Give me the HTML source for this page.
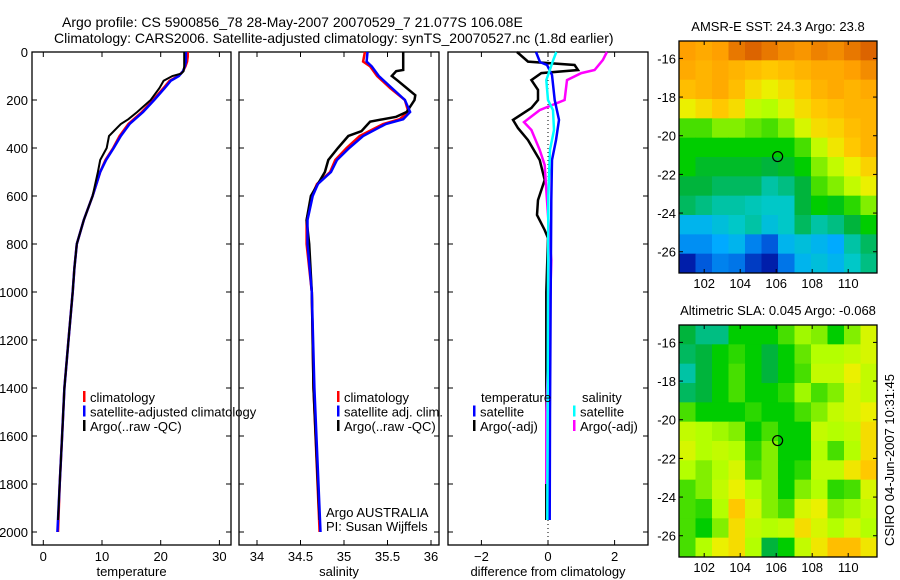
<!DOCTYPE html>
<html><head><meta charset="utf-8"><style>
body{margin:0;background:#fff}
svg{display:block;font-family:"Liberation Sans",sans-serif}
</style></head><body>
<svg id="c" width="900" height="580" viewBox="0 0 900 580" xmlns="http://www.w3.org/2000/svg">
<rect width="900" height="580" fill="#fff"/>
<text x="62" y="27" font-size="14">Argo profile: CS 5900856_78 28-May-2007 20070529_7 21.077S 106.08E</text>
<text x="54" y="43" font-size="14">Climatology: CARS2006. Satellite-adjusted climatology: synTS_20070527.nc (1.8d earlier)</text>
<g id="g"></g>
</svg>
<script>
// ---- data ----
const tDepth=[0,20,40,60,80,100,120,150,200,250,300,350,400,450,500,600,700,800,900,1000,1200,1400,1600,1800,2000];
const tClim=[24.6,24.6,24.5,24.2,23.8,23,21.5,20.5,18.7,16.8,14.5,13,11.9,10.6,9.7,8.4,6.9,5.7,5.3,5,4.3,3.6,3.2,2.8,2.5];
const tSat=[24.3,24.3,24.3,24.1,23.8,23.1,21.7,20.7,18.9,17.0,14.7,13.2,12.0,10.7,9.7,8.4,6.9,5.7,5.3,5,4.3,3.6,3.2,2.8,2.4];
const aDepth=[0,60,80,90,100,120,150,200,250,280,300,350,400,450,500,600,700,800,900,1000,1200,1400,1600,1800,1950];
const aTemp=[24,24,23.9,23.5,22,20.5,19.8,18.3,16,14.5,13.2,11.2,10.8,9.7,9.3,8.4,6.9,5.7,5.3,5,4.3,3.6,3.2,2.8,2.5];
const sDepth=[0,40,60,100,150,200,250,280,300,350,400,450,500,550,600,700,800,1000,1400,2000];
const sClim=[35.24,35.22,35.3,35.38,35.53,35.70,35.74,35.64,35.45,35.18,35.03,34.9,34.84,34.69,34.63,34.57,34.57,34.63,34.65,34.72];
const sSat=[35.27,35.26,35.32,35.40,35.55,35.70,35.76,35.68,35.48,35.22,35.06,34.92,34.85,34.70,34.64,34.58,34.58,34.63,34.66,34.73];
const asDepth=[0,75,80,100,120,150,180,200,250,270,290,330,350,400,450,500,600,700,800,1000,1400,1950];
const aSal=[35.68,35.68,35.6,35.55,35.62,35.72,35.82,35.81,35.72,35.6,35.3,35.2,35.05,34.93,34.82,34.78,34.62,34.57,34.6,34.63,34.65,34.72];
const dBlackDepth=[0,40,54,75,88,117,158,200,233,283,317,367,450,533,617,679,742,775,1000,1500,1950];
const dBlack=[-0.93,-0.6,0.8,0.9,-0.2,-0.5,-0.3,-0.3,-0.5,-1.05,-0.9,-0.6,-0.25,-0.1,-0.3,-0.33,-0.1,0,-0.05,-0.05,-0.05];
const dMagDepth=[0,33,75,88,117,200,242,292,325,408,471,575,783,867,1100,1500,1800];
const dMag=[1.77,1.65,1.4,1.0,0.57,0.5,-0.25,-0.72,-0.5,-0.25,-0.1,-0.05,0.05,0.1,0.05,-0.05,-0.05];
const dBlueDepth=[0,42,54,96,200,283,367,450,617,1000,1500,1950];
const dBlue=[-0.36,-0.24,-0.03,0.12,0.2,0.33,0.24,0.12,0.1,0.08,0.06,0.05];
const dCyanDepth=[0,33,117,200,242,325,408,600,1000,1950];
const dCyan=[0.25,0.16,-0.05,0,0.15,0.18,0.06,0.01,0,-0.02];
const sstGrid=[
[0.84,0.82,0.84,0.88,0.9,0.88,0.86,0.85,0.87,0.86,0.88,0.9],
[0.82,0.8,0.82,0.8,0.78,0.76,0.78,0.8,0.82,0.82,0.84,0.86],
[0.78,0.8,0.82,0.78,0.72,0.68,0.72,0.76,0.8,0.82,0.8,0.82],
[0.68,0.72,0.76,0.72,0.62,0.6,0.66,0.72,0.76,0.78,0.8,0.8],
[0.5,0.5,0.55,0.55,0.52,0.5,0.55,0.65,0.72,0.74,0.78,0.8],
[0.45,0.45,0.45,0.45,0.45,0.45,0.45,0.5,0.62,0.7,0.76,0.8],
[0.45,0.43,0.43,0.43,0.43,0.42,0.43,0.45,0.55,0.62,0.68,0.74],
[0.42,0.42,0.4,0.4,0.4,0.36,0.38,0.42,0.5,0.55,0.62,0.68],
[0.4,0.38,0.36,0.36,0.35,0.34,0.34,0.42,0.45,0.44,0.48,0.55],
[0.3,0.3,0.32,0.34,0.36,0.32,0.34,0.4,0.36,0.38,0.42,0.45],
[0.26,0.26,0.28,0.3,0.25,0.22,0.3,0.32,0.3,0.28,0.36,0.4],
[0.18,0.22,0.25,0.24,0.2,0.18,0.24,0.3,0.32,0.3,0.34,0.38]];
const slaGrid=[
[0.42,0.38,0.38,0.45,0.45,0.45,0.5,0.58,0.55,0.45,0.55,0.65],
[0.4,0.42,0.45,0.48,0.45,0.42,0.45,0.52,0.6,0.6,0.62,0.65],
[0.36,0.42,0.45,0.5,0.45,0.42,0.45,0.5,0.62,0.62,0.68,0.62],
[0.4,0.42,0.45,0.5,0.45,0.45,0.48,0.58,0.5,0.55,0.65,0.62],
[0.5,0.45,0.45,0.45,0.48,0.45,0.45,0.5,0.55,0.62,0.65,0.68],
[0.62,0.6,0.58,0.55,0.45,0.5,0.45,0.45,0.62,0.6,0.62,0.72],
[0.65,0.6,0.62,0.6,0.48,0.55,0.45,0.45,0.6,0.5,0.6,0.72],
[0.6,0.55,0.6,0.65,0.5,0.55,0.45,0.48,0.62,0.62,0.7,0.76],
[0.5,0.55,0.62,0.68,0.6,0.55,0.45,0.55,0.6,0.48,0.5,0.65],
[0.5,0.48,0.6,0.76,0.65,0.55,0.5,0.65,0.68,0.55,0.58,0.62],
[0.5,0.45,0.55,0.72,0.62,0.6,0.62,0.72,0.65,0.6,0.65,0.6],
[0.5,0.6,0.68,0.72,0.6,0.42,0.45,0.62,0.7,0.78,0.78,0.7]];
const depthTicks=[0,200,400,600,800,1000,1200,1400,1600,1800,2000];
const tempTicks=[0,10,20,30];
const salTicks=[34,34.5,35,35.5,36];
const diffTicks=[-2,0,2];
const lonTicks=[102,104,106,108,110];
const latTicks=[-16,-18,-20,-22,-24,-26];
const argoLon=106.08, argoLat=-21.077;

// ---- drawing ----
const NS='http://www.w3.org/2000/svg';
const G=document.getElementById('g');
function el(t,a,p){const e=document.createElementNS(NS,t);for(const k in a)e.setAttribute(k,a[k]);(p||G).appendChild(e);return e;}
const yD=d=>52+0.24*d;
const xT=v=>43.3+5.87*v;
const xS=v=>257+87*(v-34);
const xDf=v=>548+33.3*v;
function line(ds,vs,xf,col,w,name){
  const pts=ds.map((d,i)=>xf(vs[i]).toFixed(1)+','+yD(d).toFixed(1)).join(' ');
  const e=el('polyline',{points:pts,fill:'none',stroke:col,'stroke-width':w});
  
  
}
function panel(x0,x1,ticks,xf,label,name,labelDepth){
  const f=el('rect',{x:x0,y:52,width:x1-x0,height:493,fill:'none',stroke:'#000','stroke-width':1.3});
  
  
  ticks.forEach(t=>{const x=xf(t);
    el('line',{x1:x,x2:x,y1:52,y2:57,stroke:'#000'});el('line',{x1:x,x2:x,y1:540,y2:545,stroke:'#000'});
    const tx=el('text',{x:x,y:561,'font-size':13,'text-anchor':'middle'});tx.textContent=String(t).replace('-','\u2212');
    
    
  });
  depthTicks.forEach(d=>{const y=yD(d);
    el('line',{x1:x0,x2:x0+5,y1:y,y2:y,stroke:'#000'});el('line',{x1:x1-5,x2:x1,y1:y,y2:y,stroke:'#000'});
    if(labelDepth){const tx=el('text',{x:28,y:y+5,'font-size':13,'text-anchor':'end'});tx.textContent=d;
      
      }
  });
  const lb=el('text',{x:(x0+x1)/2,y:576,'font-size':13,'text-anchor':'middle'});lb.textContent=label;
  
  
}
panel(32,231,tempTicks,xT,'temperature','temperature-panel',true);
panel(239,439,salTicks,xS,'salinity','salinity-panel',false);
panel(448,648,diffTicks,xDf,'difference from climatology','difference-panel',false);
el('line',{x1:548,x2:548,y1:52,y2:545,stroke:'#000','stroke-dasharray':'1,3'});

line(tDepth,tClim,xT,'#f00',2.5,'temp-climatology-line');
line(tDepth,tSat,xT,'#00f',2.5,'temp-satellite-line');
line(aDepth,aTemp,xT,'#000',2,'temp-argo-line');
line(sDepth,sClim,xS,'#f00',2.5,'sal-climatology-line');
line(asDepth,aSal,xS,'#000',2.5,'sal-argo-line');
line(sDepth,sSat,xS,'#00f',2.5,'sal-satellite-line');
line(dBlackDepth,dBlack,xDf,'#000',2.5,'diff-temp-argo-line');
line(dMagDepth,dMag,xDf,'#f0f',2.5,'diff-sal-argo-line');
line(dBlueDepth,dBlue,xDf,'#00f',2.5,'diff-temp-satellite-line');
line(dCyanDepth,dCyan,xDf,'#0ff',2.5,'diff-sal-satellite-line');

function legend(x,y,items,name){items.forEach((it,i)=>{
  el('rect',{x:x,y:y+i*14.5-11,width:2.5,height:11,fill:it[1]});
  const t=el('text',{x:x+7,y:y+i*14.5,'font-size':13});t.textContent=it[0];
  
  
});}
legend(83,402,[['climatology','#f00'],['satellite-adjusted climatology','#00f'],['Argo(..raw -QC)','#000']],'temperature-legend');
legend(337,402,[['climatology','#f00'],['satellite adj. clim.','#00f'],['Argo(..raw -QC)','#000']],'salinity-legend');
let t=el('text',{x:481,y:402,'font-size':13});t.textContent='temperature';

t=el('text',{x:582,y:402,'font-size':13});t.textContent='salinity';

legend(473,416.5,[['satellite','#00f'],['Argo(-adj)','#000']],'diff-temperature-legend');
legend(573,416.5,[['satellite','#0ff'],['Argo(-adj)','#f0f']],'diff-salinity-legend');
t=el('text',{x:326,y:517,'font-size':13});t.textContent='Argo AUSTRALIA';

t=el('text',{x:326,y:531,'font-size':13});t.textContent='PI: Susan Wijffels';


// maps
const cmapStops=[[0.18,[0,30,170]],[0.22,[0,90,220]],[0.28,[0,170,255]],[0.34,[0,200,200]],[0.38,[0,190,130]],[0.42,[0,180,60]],[0.45,[0,205,0]],[0.52,[100,230,0]],[0.6,[180,255,0]],[0.68,[235,240,0]],[0.76,[255,200,0]],[0.84,[255,160,0]],[0.9,[220,100,0]]];
function cmap(v){
  if(v<=cmapStops[0][0])return `rgb(${cmapStops[0][1]})`;
  for(let i=1;i<cmapStops.length;i++){if(v<=cmapStops[i][0]){const a=cmapStops[i-1],b=cmapStops[i],f=(v-a[0])/(b[0]-a[0]);
    return 'rgb('+a[1].map((c,k)=>Math.round(c+(b[1][k]-c)*f)).join(',')+')';}}
  return `rgb(${cmapStops[cmapStops.length-1][1]})`;
}
function map(top,grid,title,name){
  const L=679,R=877,B=top+232,lon0=100.6,lon1=111.6,lat0=-15.1,lat1=-27.1;
  const xL=v=>L+(v-lon0)/(lon1-lon0)*(R-L), yL=v=>top+(v-lat0)/(lat1-lat0)*(B-top);
  const nr=grid.length,nc=grid[0].length,cw=(R-L)/nc,ch=(B-top)/nr;
  grid.forEach((row,i)=>row.forEach((v,j)=>{
    const c=el('rect',{x:L+j*cw,y:top+i*ch,width:cw+0.5,height:ch+0.5,fill:cmap(v)});
    
    
  }));
  el('rect',{x:L,y:top,width:R-L,height:B-top,fill:'none',stroke:'#000','stroke-width':1.3});
  lonTicks.forEach(v=>{const x=xL(v);el('line',{x1:x,x2:x,y1:top,y2:top+4,stroke:'#000'});el('line',{x1:x,x2:x,y1:B-4,y2:B,stroke:'#000'});
    const tx=el('text',{x:x,y:B+15,'font-size':13,'text-anchor':'middle'});tx.textContent=v;
    });
  latTicks.forEach(v=>{const y=yL(v);el('line',{x1:L,x2:L+4,y1:y,y2:y,stroke:'#000'});el('line',{x1:R-4,x2:R,y1:y,y2:y,stroke:'#000'});
    const tx=el('text',{x:676,y:y+5,'font-size':13,'text-anchor':'end'});tx.textContent=String(v);
    });
  const c=el('circle',{cx:xL(argoLon),cy:yL(argoLat),r:5,fill:'none',stroke:'#000','stroke-width':1.2});
  
  const tt=el('text',{x:(L+R)/2,y:top-10,'font-size':13,'text-anchor':'middle'});tt.textContent=title;
  
}
map(41,sstGrid,'AMSR-E SST: 24.3 Argo: 23.8','sst-map');
map(325,slaGrid,'Altimetric SLA: 0.045 Argo: -0.068','sla-map');
t=el('text',{x:0,y:0,'font-size':13,'text-anchor':'middle',transform:'translate(894,460) rotate(-90)'});t.textContent='CSIRO 04-Jun-2007 10:31:45';

</script>
</body></html>
